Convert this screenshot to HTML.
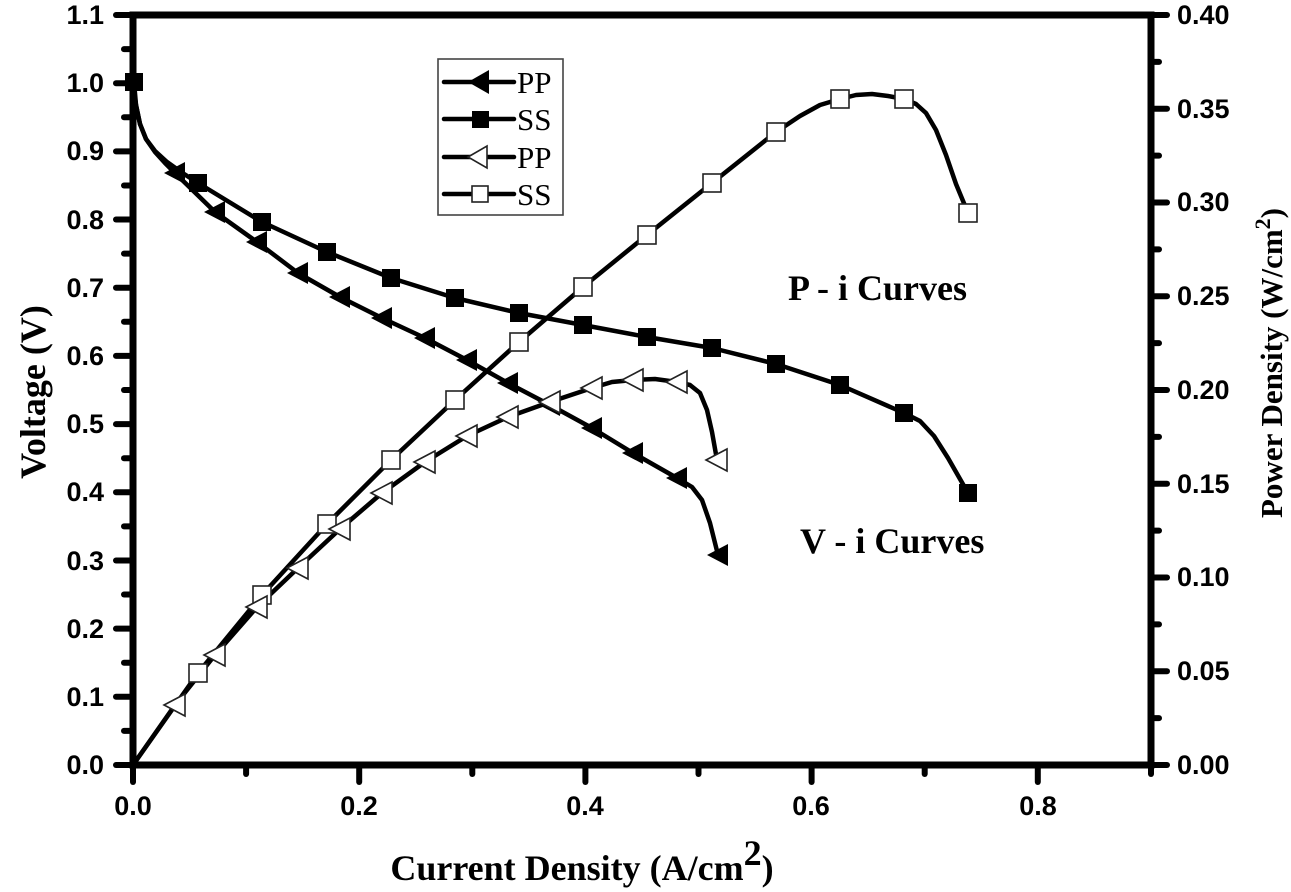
<!DOCTYPE html>
<html>
<head>
<meta charset="utf-8">
<style>
  html, body { margin:0; padding:0; background:#fff; }
  svg { display:block; }
  .tl { font-family: "Liberation Sans", Arial, sans-serif; font-weight: bold; font-size: 27px; fill:#000; }
  .ttl { font-family: "Liberation Serif", "Times New Roman", serif; font-weight: bold; fill:#000; }
  .lg { font-family: "Liberation Serif", "Times New Roman", serif; font-size: 31px; fill:#000; }
</style>
</head>
<body>
<svg width="1291" height="892" viewBox="0 0 1291 892" xmlns="http://www.w3.org/2000/svg">
  <rect x="0" y="0" width="1291" height="892" fill="#fff"/>

  <g fill="none" stroke="#000" stroke-width="4.5" stroke-linejoin="round" stroke-linecap="round">
    <polyline points="134,82 136,105 140,124 146,139 155,151 167,162 181,172 198,183 262,222 327,252 391,278 455,298 519,313 583,325 647,337 712,348 776,364 840,385 904,413 920,421 934,436 948,458 968,493"/>
    <polyline points="133,83 136,105 140,124 146,139 155,152 165,163 175,173 215,212 257,242 298,273 340,297 382,318 425,338 467,360 508,383 550,405 592,428 633,453 677,478 692,487 702,500 710,523 718,555"/>
    <polyline points="133,765 198,673 262,595 327,524 391,460 455,400 519,342 583,287 647,235 712,183 776,132 800,116 820,105 840,99 856,95 872,94 888,96 904,99 916,104 926,113 936,130 946,155 956,184 968,213"/>
    <polyline points="133,765 175,705 215,655 257,607 298,568 340,529 382,493 425,462 467,436 508,417 550,402 592,388 612,382 633,380 655,379 677,382 690,385 700,393 707,410 712,432 717,460"/>
  </g>

  <g fill="#000">
    <rect x="125" y="73" width="18" height="18"/>
    <rect x="189" y="174" width="18" height="18"/>
    <rect x="253" y="213" width="18" height="18"/>
    <rect x="318" y="243" width="18" height="18"/>
    <rect x="382" y="269" width="18" height="18"/>
    <rect x="446" y="289" width="18" height="18"/>
    <rect x="510" y="304" width="18" height="18"/>
    <rect x="574" y="316" width="18" height="18"/>
    <rect x="638" y="328" width="18" height="18"/>
    <rect x="703" y="339" width="18" height="18"/>
    <rect x="767" y="355" width="18" height="18"/>
    <rect x="831" y="376" width="18" height="18"/>
    <rect x="895" y="404" width="18" height="18"/>
    <rect x="959" y="484" width="18" height="18"/>
  </g>

  <g fill="#000">
    <polygon points="164,173 185,162 185,184"/>
    <polygon points="204,212 225,201 225,223"/>
    <polygon points="246,242 267,231 267,253"/>
    <polygon points="287,273 308,262 308,284"/>
    <polygon points="329,297 350,286 350,308"/>
    <polygon points="371,318 392,307 392,329"/>
    <polygon points="414,338 435,327 435,349"/>
    <polygon points="456,360 477,349 477,371"/>
    <polygon points="497,383 518,372 518,394"/>
    <polygon points="539,405 560,394 560,416"/>
    <polygon points="581,428 602,417 602,439"/>
    <polygon points="622,453 643,442 643,464"/>
    <polygon points="666,478 687,467 687,489"/>
    <polygon points="707,555 728,544 728,566"/>
  </g>

  <g fill="#fff" stroke="#222" stroke-width="1.6">
    <rect x="189" y="664" width="18" height="18"/>
    <rect x="253" y="586" width="18" height="18"/>
    <rect x="318" y="515" width="18" height="18"/>
    <rect x="382" y="451" width="18" height="18"/>
    <rect x="446" y="391" width="18" height="18"/>
    <rect x="510" y="333" width="18" height="18"/>
    <rect x="574" y="278" width="18" height="18"/>
    <rect x="638" y="226" width="18" height="18"/>
    <rect x="703" y="174" width="18" height="18"/>
    <rect x="767" y="123" width="18" height="18"/>
    <rect x="831" y="90" width="18" height="18"/>
    <rect x="895" y="90" width="18" height="18"/>
    <rect x="959" y="204" width="18" height="18"/>
  </g>

  <g fill="#fff" stroke="#222" stroke-width="1.6">
    <polygon points="164,705 185,694 185,716"/>
    <polygon points="204,655 225,644 225,666"/>
    <polygon points="246,607 267,596 267,618"/>
    <polygon points="287,568 308,557 308,579"/>
    <polygon points="329,529 350,518 350,540"/>
    <polygon points="371,493 392,482 392,504"/>
    <polygon points="414,462 435,451 435,473"/>
    <polygon points="456,436 477,425 477,447"/>
    <polygon points="497,417 518,406 518,428"/>
    <polygon points="539,402 560,391 560,413"/>
    <polygon points="581,388 602,377 602,399"/>
    <polygon points="622,380 643,369 643,391"/>
    <polygon points="666,382 687,371 687,393"/>
    <polygon points="706,460 727,449 727,471"/>
  </g>

  <g fill="none" stroke="#000" stroke-width="7" stroke-linecap="square">
    <line x1="133" y1="15" x2="1151" y2="15"/>
    <line x1="133" y1="15" x2="133" y2="765"/>
    <line x1="1151" y1="15" x2="1151" y2="765"/>
    <line x1="133" y1="765" x2="1151" y2="765"/>
  </g>

  <g stroke="#000" stroke-width="6" stroke-linecap="round">
    <line x1="116" y1="765" x2="133" y2="765"/>
    <line x1="116" y1="696.8" x2="133" y2="696.8"/>
    <line x1="116" y1="628.6" x2="133" y2="628.6"/>
    <line x1="116" y1="560.5" x2="133" y2="560.5"/>
    <line x1="116" y1="492.3" x2="133" y2="492.3"/>
    <line x1="116" y1="424.1" x2="133" y2="424.1"/>
    <line x1="116" y1="355.9" x2="133" y2="355.9"/>
    <line x1="116" y1="287.7" x2="133" y2="287.7"/>
    <line x1="116" y1="219.5" x2="133" y2="219.5"/>
    <line x1="116" y1="151.4" x2="133" y2="151.4"/>
    <line x1="116" y1="83.2" x2="133" y2="83.2"/>
    <line x1="116" y1="15" x2="133" y2="15"/>
    <line x1="124" y1="730.9" x2="133" y2="730.9"/>
    <line x1="124" y1="662.7" x2="133" y2="662.7"/>
    <line x1="124" y1="594.5" x2="133" y2="594.5"/>
    <line x1="124" y1="526.4" x2="133" y2="526.4"/>
    <line x1="124" y1="458.2" x2="133" y2="458.2"/>
    <line x1="124" y1="390" x2="133" y2="390"/>
    <line x1="124" y1="321.8" x2="133" y2="321.8"/>
    <line x1="124" y1="253.6" x2="133" y2="253.6"/>
    <line x1="124" y1="185.5" x2="133" y2="185.5"/>
    <line x1="124" y1="117.3" x2="133" y2="117.3"/>
    <line x1="124" y1="49.1" x2="133" y2="49.1"/>
    <line x1="1151" y1="765" x2="1167" y2="765"/>
    <line x1="1151" y1="671.25" x2="1167" y2="671.25"/>
    <line x1="1151" y1="577.5" x2="1167" y2="577.5"/>
    <line x1="1151" y1="483.75" x2="1167" y2="483.75"/>
    <line x1="1151" y1="390" x2="1167" y2="390"/>
    <line x1="1151" y1="296.25" x2="1167" y2="296.25"/>
    <line x1="1151" y1="202.5" x2="1167" y2="202.5"/>
    <line x1="1151" y1="108.75" x2="1167" y2="108.75"/>
    <line x1="1151" y1="15" x2="1167" y2="15"/>
    <line x1="1151" y1="718.1" x2="1159" y2="718.1"/>
    <line x1="1151" y1="624.4" x2="1159" y2="624.4"/>
    <line x1="1151" y1="530.6" x2="1159" y2="530.6"/>
    <line x1="1151" y1="436.9" x2="1159" y2="436.9"/>
    <line x1="1151" y1="343.1" x2="1159" y2="343.1"/>
    <line x1="1151" y1="249.4" x2="1159" y2="249.4"/>
    <line x1="1151" y1="155.6" x2="1159" y2="155.6"/>
    <line x1="1151" y1="61.9" x2="1159" y2="61.9"/>
    <line x1="133" y1="765" x2="133" y2="782"/>
    <line x1="359.2" y1="765" x2="359.2" y2="782"/>
    <line x1="585.4" y1="765" x2="585.4" y2="782"/>
    <line x1="811.6" y1="765" x2="811.6" y2="782"/>
    <line x1="1037.8" y1="765" x2="1037.8" y2="782"/>
    <line x1="246.1" y1="765" x2="246.1" y2="774"/>
    <line x1="472.3" y1="765" x2="472.3" y2="774"/>
    <line x1="698.5" y1="765" x2="698.5" y2="774"/>
    <line x1="924.7" y1="765" x2="924.7" y2="774"/>
    <line x1="1151" y1="765" x2="1151" y2="774"/>
  </g>

  <g class="tl" text-anchor="end">
    <text x="104" y="774">0.0</text>
    <text x="104" y="706">0.1</text>
    <text x="104" y="638">0.2</text>
    <text x="104" y="570">0.3</text>
    <text x="104" y="501">0.4</text>
    <text x="104" y="433">0.5</text>
    <text x="104" y="365">0.6</text>
    <text x="104" y="297">0.7</text>
    <text x="104" y="229">0.8</text>
    <text x="104" y="160">0.9</text>
    <text x="104" y="92">1.0</text>
    <text x="104" y="24">1.1</text>
  </g>

  <g class="tl" text-anchor="start">
    <text x="1177" y="774">0.00</text>
    <text x="1177" y="680">0.05</text>
    <text x="1177" y="586">0.10</text>
    <text x="1177" y="493">0.15</text>
    <text x="1177" y="399">0.20</text>
    <text x="1177" y="305">0.25</text>
    <text x="1177" y="211">0.30</text>
    <text x="1177" y="118">0.35</text>
    <text x="1177" y="24">0.40</text>
  </g>

  <g class="tl" text-anchor="middle">
    <text x="133" y="815">0.0</text>
    <text x="359" y="815">0.2</text>
    <text x="585" y="815">0.4</text>
    <text x="811" y="815">0.6</text>
    <text x="1038" y="815">0.8</text>
  </g>

  <text class="ttl" font-size="36" x="582" y="880" text-anchor="middle">Current Density (A/cm<tspan dy="-15">2</tspan><tspan dy="15">)</tspan></text>
  <text class="ttl" font-size="36" transform="translate(45,392) rotate(-90)" text-anchor="middle">Voltage (V)</text>
  <text class="ttl" font-size="31" transform="translate(1282,363) rotate(-90)" text-anchor="middle">Power Density (W/cm<tspan dy="-12" font-size="22">2</tspan><tspan dy="12">)</tspan></text>

  <text class="ttl" font-size="36" x="788" y="300">P - i Curves</text>
  <text class="ttl" font-size="36" x="800" y="553">V - i Curves</text>

  <rect x="438" y="59" width="125" height="156" fill="#fff" stroke="#444" stroke-width="1.6"/>
  <g stroke="#000" stroke-width="4.5" stroke-linecap="round">
    <line x1="444" y1="82" x2="514" y2="82"/>
    <line x1="444" y1="119" x2="514" y2="119"/>
    <line x1="444" y1="157" x2="514" y2="157"/>
    <line x1="444" y1="194" x2="514" y2="194"/>
  </g>
  <polygon points="468,82 489,70 489,94" fill="#000"/>
  <rect x="472" y="111" width="17" height="17" fill="#000"/>
  <polygon points="468,157 487,146 487,168" fill="#fff" stroke="#222" stroke-width="1.6"/>
  <rect x="472" y="186" width="16" height="16" fill="#fff" stroke="#222" stroke-width="1.6"/>
  <g class="lg">
    <text x="517" y="93">PP</text>
    <text x="517" y="130">SS</text>
    <text x="517" y="168">PP</text>
    <text x="517" y="205">SS</text>
  </g>
</svg>
</body>
</html>
